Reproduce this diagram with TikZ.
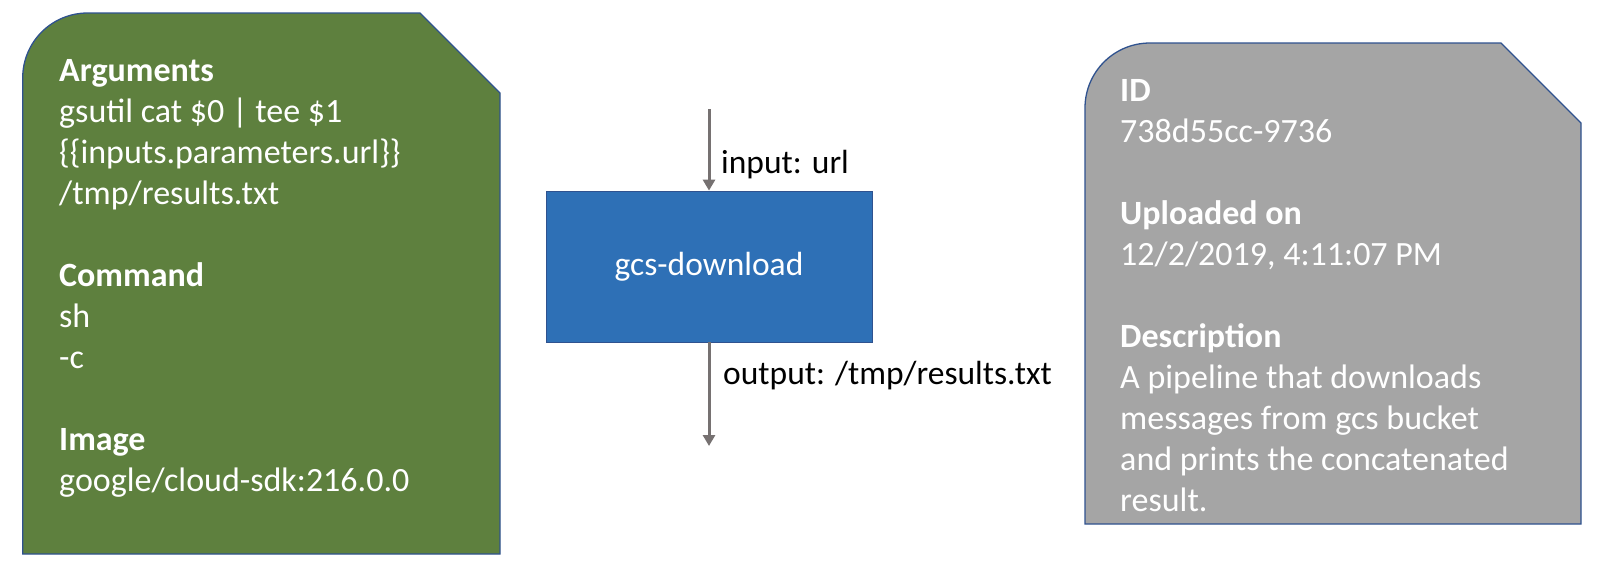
\documentclass[tikz,border=0pt]{standalone}
\usepackage{fontspec}
\setmainfont{Carlito}
\usetikzlibrary{arrows.meta}
\definecolor{grn}{RGB}{94,128,62}
\definecolor{gry}{RGB}{165,165,165}
\definecolor{blu}{RGB}{46,112,182}
\definecolor{edge}{RGB}{47,82,143}
\definecolor{arrgray}{RGB}{118,113,113}
\tikzset{
  card/.style={draw=edge, line width=1.3pt},
  cardtext/.style={inner sep=0pt, anchor=north west, align=left, text=white,
     font=\fontsize{34}{41}\selectfont},
  lbl/.style={inner sep=0pt, anchor=base west, font=\fontsize{33.5}{41}\selectfont, text=black},
  procbox/.style={draw=edge, line width=0.8pt, fill=blu, minimum width=326pt, minimum height=151pt,
     inner sep=0pt, text=white, font=\fontsize{33.5}{41}\selectfont},
  flow/.style={draw=arrgray, line width=3pt, -{Triangle[width=12pt,length=11pt]}}
}
\begin{document}
\begin{tikzpicture}[x=1pt,y=-1pt]
\useasboundingbox (0,0) rectangle (1600,581);
\fill[white] (0,0) rectangle (1600,581);
% left card
\draw[card, fill=grn] (22.7,554) -- (22.7,78) .. controls (22.7,42) and (51.7,13) .. (87.7,13)
   -- (420,13) -- (500,93) -- (500,554) -- cycle;
\node[cardtext] (argtext) at (59,51.5) {\rule{0pt}{30pt}\textbf{Arguments}\\
gsutil cat \$0 | tee \$1\\
\{\{inputs.parameters.url\}\}\\
/tmp/results.txt\\
\\
\textbf{Command}\\
sh\\
-c\\
\\
\textbf{Image}\\
google/cloud-sdk:216.0.0};
% right card
\draw[card, fill=gry] (1085,524) -- (1085,108) .. controls (1085,72) and (1114,43) .. (1150,43)
   -- (1501,43) -- (1581,123) -- (1581,524) -- cycle;
\node[cardtext] (infotext) at (1120,71) {\rule{0pt}{30pt}\textbf{ID}\\
738d55cc-9736\\
\\
\textbf{Uploaded on}\\
12/2/2019, 4:11:07 PM\\
\\
\textbf{Description}\\
A pipeline that downloads\\
messages from gcs bucket\\
and prints the concatenated\\
result.};
% process
\node[procbox] (box) at (709,266.5) {gcs-download};
\coordinate (intop) at (709,109);
\coordinate (outend) at (709,446);
\draw[flow] (intop) -- (box.north);
\draw[flow] (box.south) -- (outend);
\node[lbl] (inlbl) at (721,173) {input: url};
\node[lbl] (outlbl) at (723,384) {output: /tmp/results.txt};
\end{tikzpicture}
\end{document}
